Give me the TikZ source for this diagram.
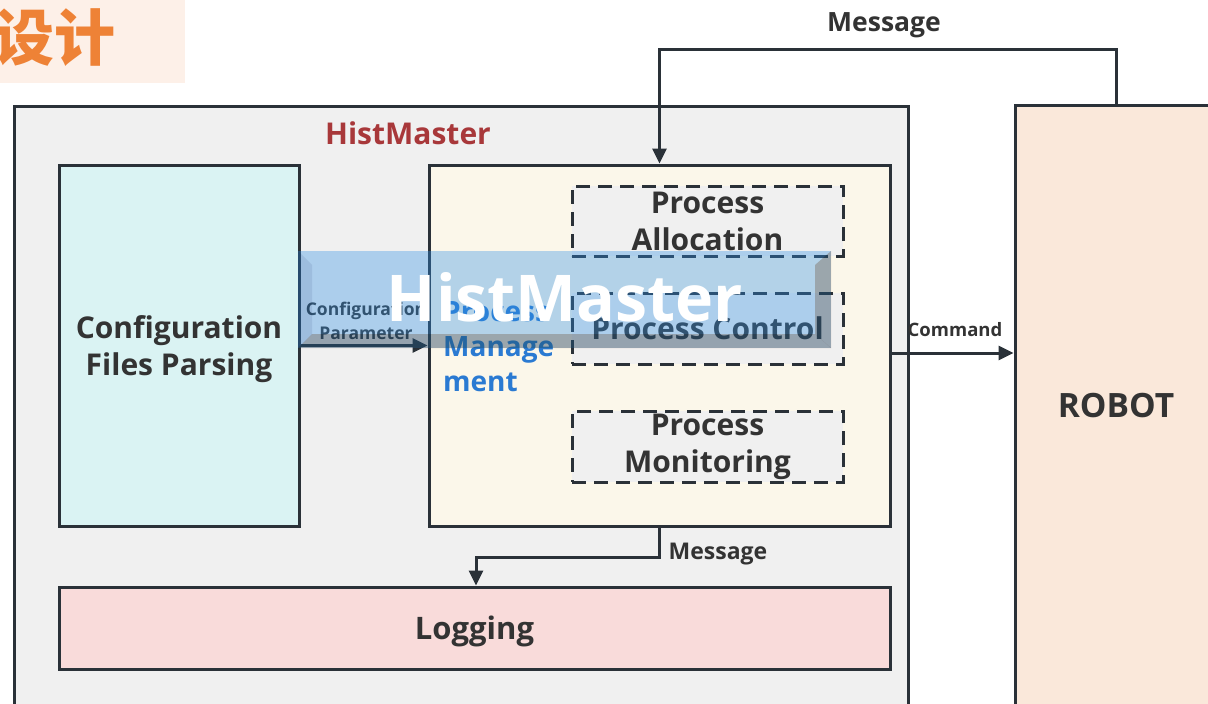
\documentclass[tikz,border=0pt]{standalone}
\usepackage{fontspec}
\setmainfont{Open Sans}
\newfontfamily\cjk{Noto Sans CJK SC}
\usetikzlibrary{arrows.meta}

\definecolor{edge}{HTML}{2A3138}
\definecolor{txt}{HTML}{333333}
\definecolor{panel}{HTML}{F0F0F0}
\definecolor{cyanfill}{HTML}{DAF3F3}
\definecolor{creamfill}{HTML}{FBF7EA}
\definecolor{pinkfill}{HTML}{F9DBDA}
\definecolor{peachfill}{HTML}{FAE8DA}
\definecolor{tagfill}{HTML}{FDF0E8}
\definecolor{tagtext}{HTML}{EE8236}
\definecolor{titlered}{HTML}{A8383A}
\definecolor{pmblue}{HTML}{2A7AD2}
\definecolor{bandblue}{RGB}{46,143,229}
\definecolor{rimshade}{RGB}{222,202,190}
\definecolor{sideshade}{RGB}{233,235,240}

\tikzset{
  box/.style={draw=edge, line width=3pt, inner sep=0pt, align=center,
    text=txt, font=\bfseries\fontsize{30}{37}\selectfont},
  dbox/.style={box, fill=panel, dash pattern=on 14pt off 8pt},
  arr/.style={draw=edge, line width=3pt, -{Triangle[length=15pt,width=14pt]}},
  lbl/.style={inner sep=0pt, text=txt, align=center},
}

\begin{document}
\begin{tikzpicture}[x=1pt,y=-1pt]
\useasboundingbox (0,0) rectangle (1208,704);
\clip (0,0) rectangle (1208,704);
\fill[white] (0,0) rectangle (1208,704);

% chapter tag in the corner
\node[fill=tagfill, minimum width=185pt, minimum height=83pt, anchor=north west,
  inner sep=0pt] (tag) at (0,0) {};
\node[text=tagtext, inner sep=0pt, font=\cjk\bfseries\fontsize{61}{61}\selectfont]
  (tagtext) at (55,38) {设计};

% outer HistMaster frame and robot
\node[box, fill=panel, minimum width=894pt, minimum height=602pt, anchor=north west]
  (hist) at (13,105) {};
\node[lbl, text=titlered, font=\bfseries\fontsize{30}{34}\selectfont]
  (histtitle) at (408,133) {HistMaster};
\node[box, fill=peachfill, minimum width=202pt, minimum height=602pt,
  font=\bfseries\fontsize{33.5}{38}\selectfont] (robot) at (1116,406) {ROBOT};

% inner modules
\node[box, fill=cyanfill, minimum width=240pt, minimum height=361pt, text depth=0pt]
  (config) at (179,345.5) {Configuration\\Files Parsing};
\node[box, fill=creamfill, minimum width=461pt, minimum height=361pt]
  (pm) at (659.5,345.5) {};
\node[lbl, anchor=west, align=left, text=pmblue,
  font=\bfseries\fontsize{28}{35}\selectfont] (pmlabel) at (443,347)
  {Process\\Manage\\ment};
\node[dbox, minimum width=271pt, minimum height=70pt]
  (alloc) at (707.5,221) {Process\\Allocation};
\node[dbox, minimum width=271pt, minimum height=71pt]
  (control) at (707.5,328.5) {Process Control};
\node[dbox, minimum width=271pt, minimum height=71pt]
  (monitor) at (707.5,446.5) {Process\\Monitoring};
\node[box, fill=pinkfill, minimum width=831pt, minimum height=82pt, text depth=0pt,
  font=\bfseries\fontsize{31}{37}\selectfont]
  (logging) at (474.5,628) {Logging};

% connectors
\draw[arr] (config.east) -- (pm.west);
\node[lbl, font=\bfseries\fontsize{17.5}{24}\selectfont] (paramlbl) at (366,321)
  {Configuration\\Parameter};

\draw[arr] ([yshift=-7.5pt]pm.east) coordinate (cmdstart) -- (cmdstart -| robot.west);
\node[lbl, font=\bfseries\fontsize{18.5}{22}\selectfont] (cmdlbl) at (955,330) {Command};

\draw[arr] (pm.south) -- ++(0,30) -| ([xshift=1.5pt]logging.north);
\node[lbl, font=\bfseries\fontsize{23}{26}\selectfont] (msglow) at (718,554) {Message};

\draw[arr] (robot.north) -- ++(0,-54) -| (pm.north);
\node[lbl, font=\bfseries\fontsize{26.5}{30}\selectfont] (msgtop) at (884,25) {Message};

% translucent title banner with bevelled rim
\fill[bandblue, opacity=0.35] (298,251) rectangle (831,348);
\fill[sideshade, blend mode=multiply] (298,251) -- (312,265) -- (312,334) -- (298,348) -- cycle;
\fill[rimshade, blend mode=multiply] (298,348) -- (312,334) -- (815,334) -- (831,348) -- cycle;
\fill[rimshade, blend mode=multiply] (831,251) -- (815,265) -- (815,334) -- (831,348) -- cycle;
\node[inner sep=0pt, text=white, font=\bfseries\fontsize{64.5}{70}\selectfont]
  (banner) at (565,297) {HistMaster};
\end{tikzpicture}
\end{document}
